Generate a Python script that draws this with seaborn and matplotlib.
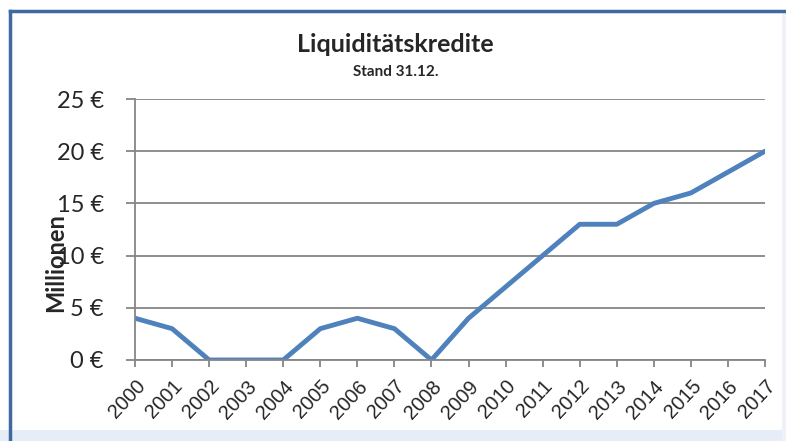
import numpy as np
import pandas as pd
import seaborn as sns
import matplotlib.pyplot as plt
from matplotlib.lines import Line2D
from matplotlib.patches import Rectangle

years = ['2000', '2001', '2002', '2003', '2004', '2005', '2006', '2007', '2008',
         '2009', '2010', '2011', '2012', '2013', '2014', '2015', '2016', '2017']
credits = [4, 3, 0, 0, 0, 3, 4, 3, 0, 4, 7, 10, 13, 13, 15, 16, 18, 20]
yticks = [0, 5, 10, 15, 20, 25]
ytick_labels = ['0 €', '5 €', '10 €', '15 €', '20 €', '25 €']

df = pd.DataFrame({'Jahr': years, 'Mio': credits})

sns.set_style('white')
plt.rcParams['font.family'] = ['Lato', 'DejaVu Sans']

fig = plt.figure(figsize=(7.86, 4.41), dpi=100)
ax = fig.add_axes([0.1718, 0.1837, 0.8015, 0.5918])

sns.lineplot(data=df, x='Jahr', y='Mio', color='#4F81BD', linewidth=3.5, ax=ax, sort=False)

ax.set_xlim(0, len(years) - 1)
ax.set_ylim(0, 25)
ax.set_yticks(yticks)
ax.set_yticklabels(ytick_labels, fontsize=17)
ax.set_xticks(range(len(years)))
ax.set_xticklabels(years, rotation=47, ha='right', rotation_mode='anchor',
                   fontsize=14.5, family='Liberation Sans')
ax.yaxis.grid(True, color='#868686', linewidth=1.3)
ax.xaxis.grid(False)
for s in ['top', 'right']:
    ax.spines[s].set_visible(False)
for s in ['left', 'bottom']:
    ax.spines[s].set_color('#868686')
    ax.spines[s].set_linewidth(1.3)
ax.tick_params(axis='x', direction='out', length=5, color='#868686', width=1.3, pad=7, bottom=True)
ax.tick_params(axis='y', direction='out', length=6.5, color='#868686', width=1.3, pad=16, left=True)
ax.set_xlabel('')
ax.set_ylabel('')

fig.text(56 / 786, 1 - 263 / 441, 'Millionen', rotation=90, ha='center', va='center',
         fontsize=17, fontweight='bold')
fig.text(0.503, 0.898, 'Liquiditätskredite', ha='center', va='center', fontsize=18, fontweight='bold')
fig.text(0.503, 0.836, 'Stand 31.12.', ha='center', va='center', fontsize=11, fontweight='bold')

# chart frame: light bottom band, faint right edge, blue left/top border
fig.patches.append(Rectangle((0, 0), 1, 11 / 441, transform=fig.transFigure,
                             facecolor='#E6EDF7', edgecolor='none', zorder=0))
fig.patches.append(Rectangle((782 / 786, 0), 4 / 786, 1 - 12 / 441, transform=fig.transFigure,
                             facecolor='#EEF2F8', edgecolor='none', zorder=0))
bx = 9.5 / 786
by = 1 - 10.5 / 441
fig.add_artist(Line2D([bx, bx], [0, by], transform=fig.transFigure,
                      color='#3F6AA1', linewidth=2.5, solid_capstyle='projecting'))
fig.add_artist(Line2D([bx, 1], [by, by], transform=fig.transFigure,
                      color='#3F6AA1', linewidth=2.5, solid_capstyle='projecting'))

fig.savefig('out.png', dpi=100)
